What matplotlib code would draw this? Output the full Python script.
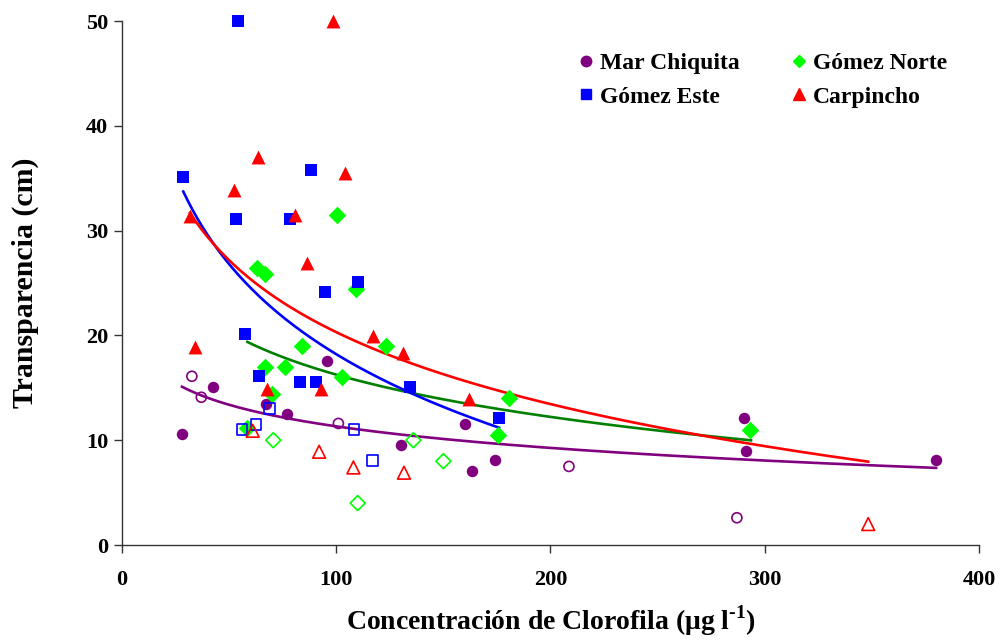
import matplotlib
matplotlib.use("Agg")
import matplotlib.pyplot as plt
import numpy as np
from matplotlib.lines import Line2D

plt.rcParams['font.family'] = ['Liberation Serif', 'DejaVu Serif']
plt.rcParams['font.weight'] = 'bold'
plt.rcParams['mathtext.fontset'] = 'custom'
plt.rcParams['mathtext.rm'] = 'Liberation Serif:bold'

# Mar Chiquita
mc_x = [28, 42.5, 67.2, 77, 95.7, 130.2, 160, 163.4, 174, 290.3, 291.3, 380]
mc_y = [10.6, 15.1, 13.5, 12.5, 17.6, 9.5, 11.5, 7.1, 8.1, 12.1, 9.0, 8.1]
mc_open_x = [32.6, 37, 101, 208.6, 287]
mc_open_y = [16.1, 14.1, 11.6, 7.5, 2.6]

# Gomez Norte
gn_x = [100.3, 63, 66.7, 109, 84, 123, 66.7, 76, 102.6, 70, 180.6, 175.5, 293, 58.5]
gn_y = [31.5, 26.4, 25.9, 24.4, 19.0, 19.0, 17.0, 17.0, 16.0, 14.4, 14.0, 10.5, 11.0, 11.2]
gn_open_x = [70.6, 110, 136, 150]
gn_open_y = [10.0, 4.0, 10.0, 8.0]

# Gomez Este
ge_x = [54, 28.6, 88, 53.3, 78.5, 110, 94.8, 57.4, 64, 83, 90.5, 134.4, 176]
ge_y = [50, 35.1, 35.8, 31.1, 31.1, 25.1, 24.1, 20.1, 16.1, 15.6, 15.6, 15.1, 12.1]
ge_open_x = [56, 62.5, 69, 108.3, 117]
ge_open_y = [11.0, 11.5, 13.0, 11.0, 8.1]

# Carpincho
ca_x = [98.5, 63.5, 104, 52.3, 31.7, 80.7, 86.4, 117.2, 131, 34, 67.6, 92.9, 162]
ca_y = [50, 37, 35.5, 33.9, 31.4, 31.5, 26.9, 19.9, 18.3, 18.9, 14.9, 14.9, 13.9]
ca_open_x = [61, 92, 108, 131.6, 348.3]
ca_open_y = [10.9, 8.9, 7.4, 6.9, 2.0]

# logarithmic trend lines y = a + b*ln(x)
trend_a = {'mc': 25.0, 'gn': 43.06, 'ge': 75.31, 'ca': 65.9}
trend_b = {'mc': -2.97, 'gn': -5.82, 'ge': -12.4, 'ca': -9.9}
trend_rng = {'mc': (28, 380), 'gn': (58.5, 293.6), 'ge': (28.6, 176), 'ca': (31.7, 348.3)}

fig = plt.figure(figsize=(10.01, 6.43), dpi=100)
ax = fig.add_axes([0.1219, 0.1524, 0.8561, 0.8149])

def trend(key, color):
  x = np.linspace(*trend_rng[key], 200)
  ax.plot(x, trend_a[key] + trend_b[key] * np.log(x), color=color, lw=1.9, zorder=3)

trend('mc', '#800080')
trend('gn', '#008000')
trend('ge', '#0000FF')
trend('ca', '#FF0000')

ax.scatter(mc_x, mc_y, s=68, marker='o', c='#800080', zorder=4, clip_on=False, linewidths=0)
ax.scatter(mc_open_x, mc_open_y, s=52, marker='o', facecolors='none',
           edgecolors='#800080', lw=1.2, zorder=4)
ax.scatter(gn_x, gn_y, s=80, marker='D', c='#00FF00', zorder=4, linewidths=0)
ax.scatter(gn_open_x, gn_open_y, s=58, marker='D', facecolors='none',
           edgecolors='#00FF00', lw=1.2, zorder=4)
ax.scatter(ge_x, ge_y, s=72, marker='s', c='#0000FF', zorder=5, clip_on=False, linewidths=0)
ax.scatter(ge_open_x, ge_open_y, s=60, marker='s', facecolors='none',
           edgecolors='#0000FF', lw=1.2, zorder=5)
ax.scatter(ca_x, ca_y, s=100, marker='^', c='#FF0000', zorder=6, clip_on=False, linewidths=0)
ax.scatter(ca_open_x, ca_open_y, s=85, marker='^', facecolors='none',
           edgecolors='#FF0000', lw=1.2, zorder=6)

ax.set_xlim(0, 400)
ax.set_ylim(0, 50)
ax.set_xticks(np.arange(0, 401, 100))
ax.set_yticks(np.arange(0, 51, 10))
ax.spines['top'].set_visible(False)
ax.spines['right'].set_visible(False)
for s in ['left', 'bottom']:
  ax.spines[s].set_color('#333333')
  ax.spines[s].set_linewidth(1.0)
ax.tick_params(direction='out', length=6, width=1, colors='#333333', labelcolor='black',
               labelsize=16)
ax.tick_params(axis='y', pad=4)
ax.tick_params(axis='x', pad=12)
for t in ax.get_xticklabels() + ax.get_yticklabels():
  t.set_fontweight('bold')

ax.set_xlabel(r'Concentración de Clorofila (μg l$^{\text{-1}}$)', fontsize=20,
              fontweight='bold', labelpad=10)
ax.set_ylabel('Transparencia (cm)', fontsize=21.5, fontweight='bold', labelpad=34)

handles = [
  Line2D([], [], ls='none', marker='o', color='#800080', ms=7.5),
  Line2D([], [], ls='none', marker='s', color='#0000FF', ms=7),
  Line2D([], [], ls='none', marker='D', color='#00FF00', ms=6.5),
  Line2D([], [], ls='none', marker='^', color='#FF0000', ms=8),
]
labels = ['Mar Chiquita', 'Gómez Este', 'Gómez Norte', 'Carpincho']
ax.legend(handles, labels, ncol=2, frameon=False, loc='upper left',
          bbox_to_anchor=(0.50, 0.98), prop={'size': 17, 'weight': 'bold'},
          handletextpad=0.0, columnspacing=1.9, labelspacing=0.5, handlelength=1.2)

fig.savefig('out.png', dpi=100)
